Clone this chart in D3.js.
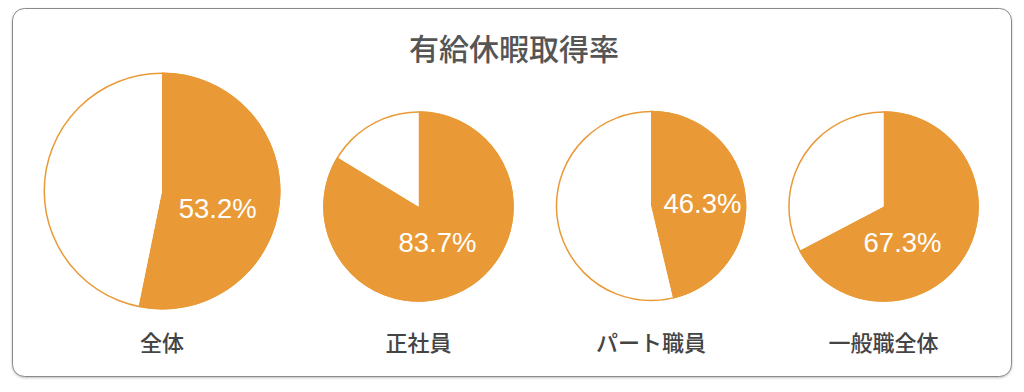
<!DOCTYPE html>
<html>
<head>
<meta charset="utf-8">
<script src="https://cdn.jsdelivr.net/npm/d3@7"></script>
<style>
  body { margin: 0; background: #fff; }
  svg { display: block; }
</style>
</head>
<body>
<script>
// data
const title = "有給休暇取得率";
const categories = ["全体", "正社員", "パート職員", "一般職全体"];
const rates = [53.2, 83.7, 46.3, 67.3];

// layout
const width = 1024, height = 392;
const orange = "#E99A37";
const pieCenters = [[162, 191], [418.5, 206.5], [651, 206], [883.5, 206.5]];
const pieRadius = [118.5, 95.3, 95.3, 95.3];
// label offsets as fraction of radius (hand placed in the original)
const labelOffsets = [[0.47, 0.15], [0.2, 0.38], [0.54, -0.03], [0.2, 0.38]];

const svg = d3.select("body").append("svg")
    .attr("width", width)
    .attr("height", height);

// shadow for the frame
const defs = svg.append("defs");
const f = defs.append("filter").attr("id", "shadow")
    .attr("x", "-5%").attr("y", "-5%").attr("width", "110%").attr("height", "115%");
f.append("feDropShadow").attr("dx", 0).attr("dy", 1).attr("stdDeviation", 1)
    .attr("flood-color", "#000").attr("flood-opacity", 0.25);

svg.append("rect")
    .attr("x", 12.5).attr("y", 8.5)
    .attr("width", 999).attr("height", 368)
    .attr("rx", 12)
    .attr("fill", "#fff")
    .attr("stroke", "#8a8a8a")
    .attr("stroke-width", 1)
    .attr("filter", "url(#shadow)");

svg.append("text")
    .attr("x", 514).attr("y", 47)
    .attr("text-anchor", "middle")
    .attr("dominant-baseline", "central")
    .style("font-family", "'Noto Sans CJK JP', sans-serif")
    .style("font-size", "30px")
    .style("font-weight", 500)
    .attr("fill", "#555")
    .text(title);

const pie = d3.pie().sort(null).value(d => d);

categories.forEach((cat, i) => {
    const [cx, cy] = pieCenters[i];
    const r = pieRadius[i];
    const g = svg.append("g").attr("transform", `translate(${cx},${cy})`);
    const arc = d3.arc().innerRadius(0).outerRadius(r);

    const slices = pie([rates[i], 100 - rates[i]]);

    g.selectAll("path.slice")
        .data(slices)
        .enter().append("path")
        .attr("class", "slice")
        .attr("d", arc)
        .attr("fill", (d, j) => j === 0 ? orange : "#fff");

    // outline of the whole circle
    g.append("circle")
        .attr("r", r - 0.75)
        .attr("fill", "none")
        .attr("stroke", orange)
        .attr("stroke-width", 1.5);

    g.append("text")
        .attr("x", labelOffsets[i][0] * r)
        .attr("y", labelOffsets[i][1] * r)
        .attr("text-anchor", "middle")
        .attr("dominant-baseline", "central")
        .style("font-family", "'Liberation Sans', Arial, sans-serif")
        .style("font-size", "27.5px")
        .attr("fill", "#fff")
        .text(rates[i].toFixed(1) + "%");

    svg.append("text")
        .attr("x", cx)
        .attr("y", 341)
        .attr("text-anchor", "middle")
        .attr("dominant-baseline", "central")
        .style("font-family", "'Noto Sans CJK JP', sans-serif")
        .style("font-size", "22px")
        .style("font-weight", 500)
        .attr("fill", "#444")
        .text(cat);
});
</script>
</body>
</html>
